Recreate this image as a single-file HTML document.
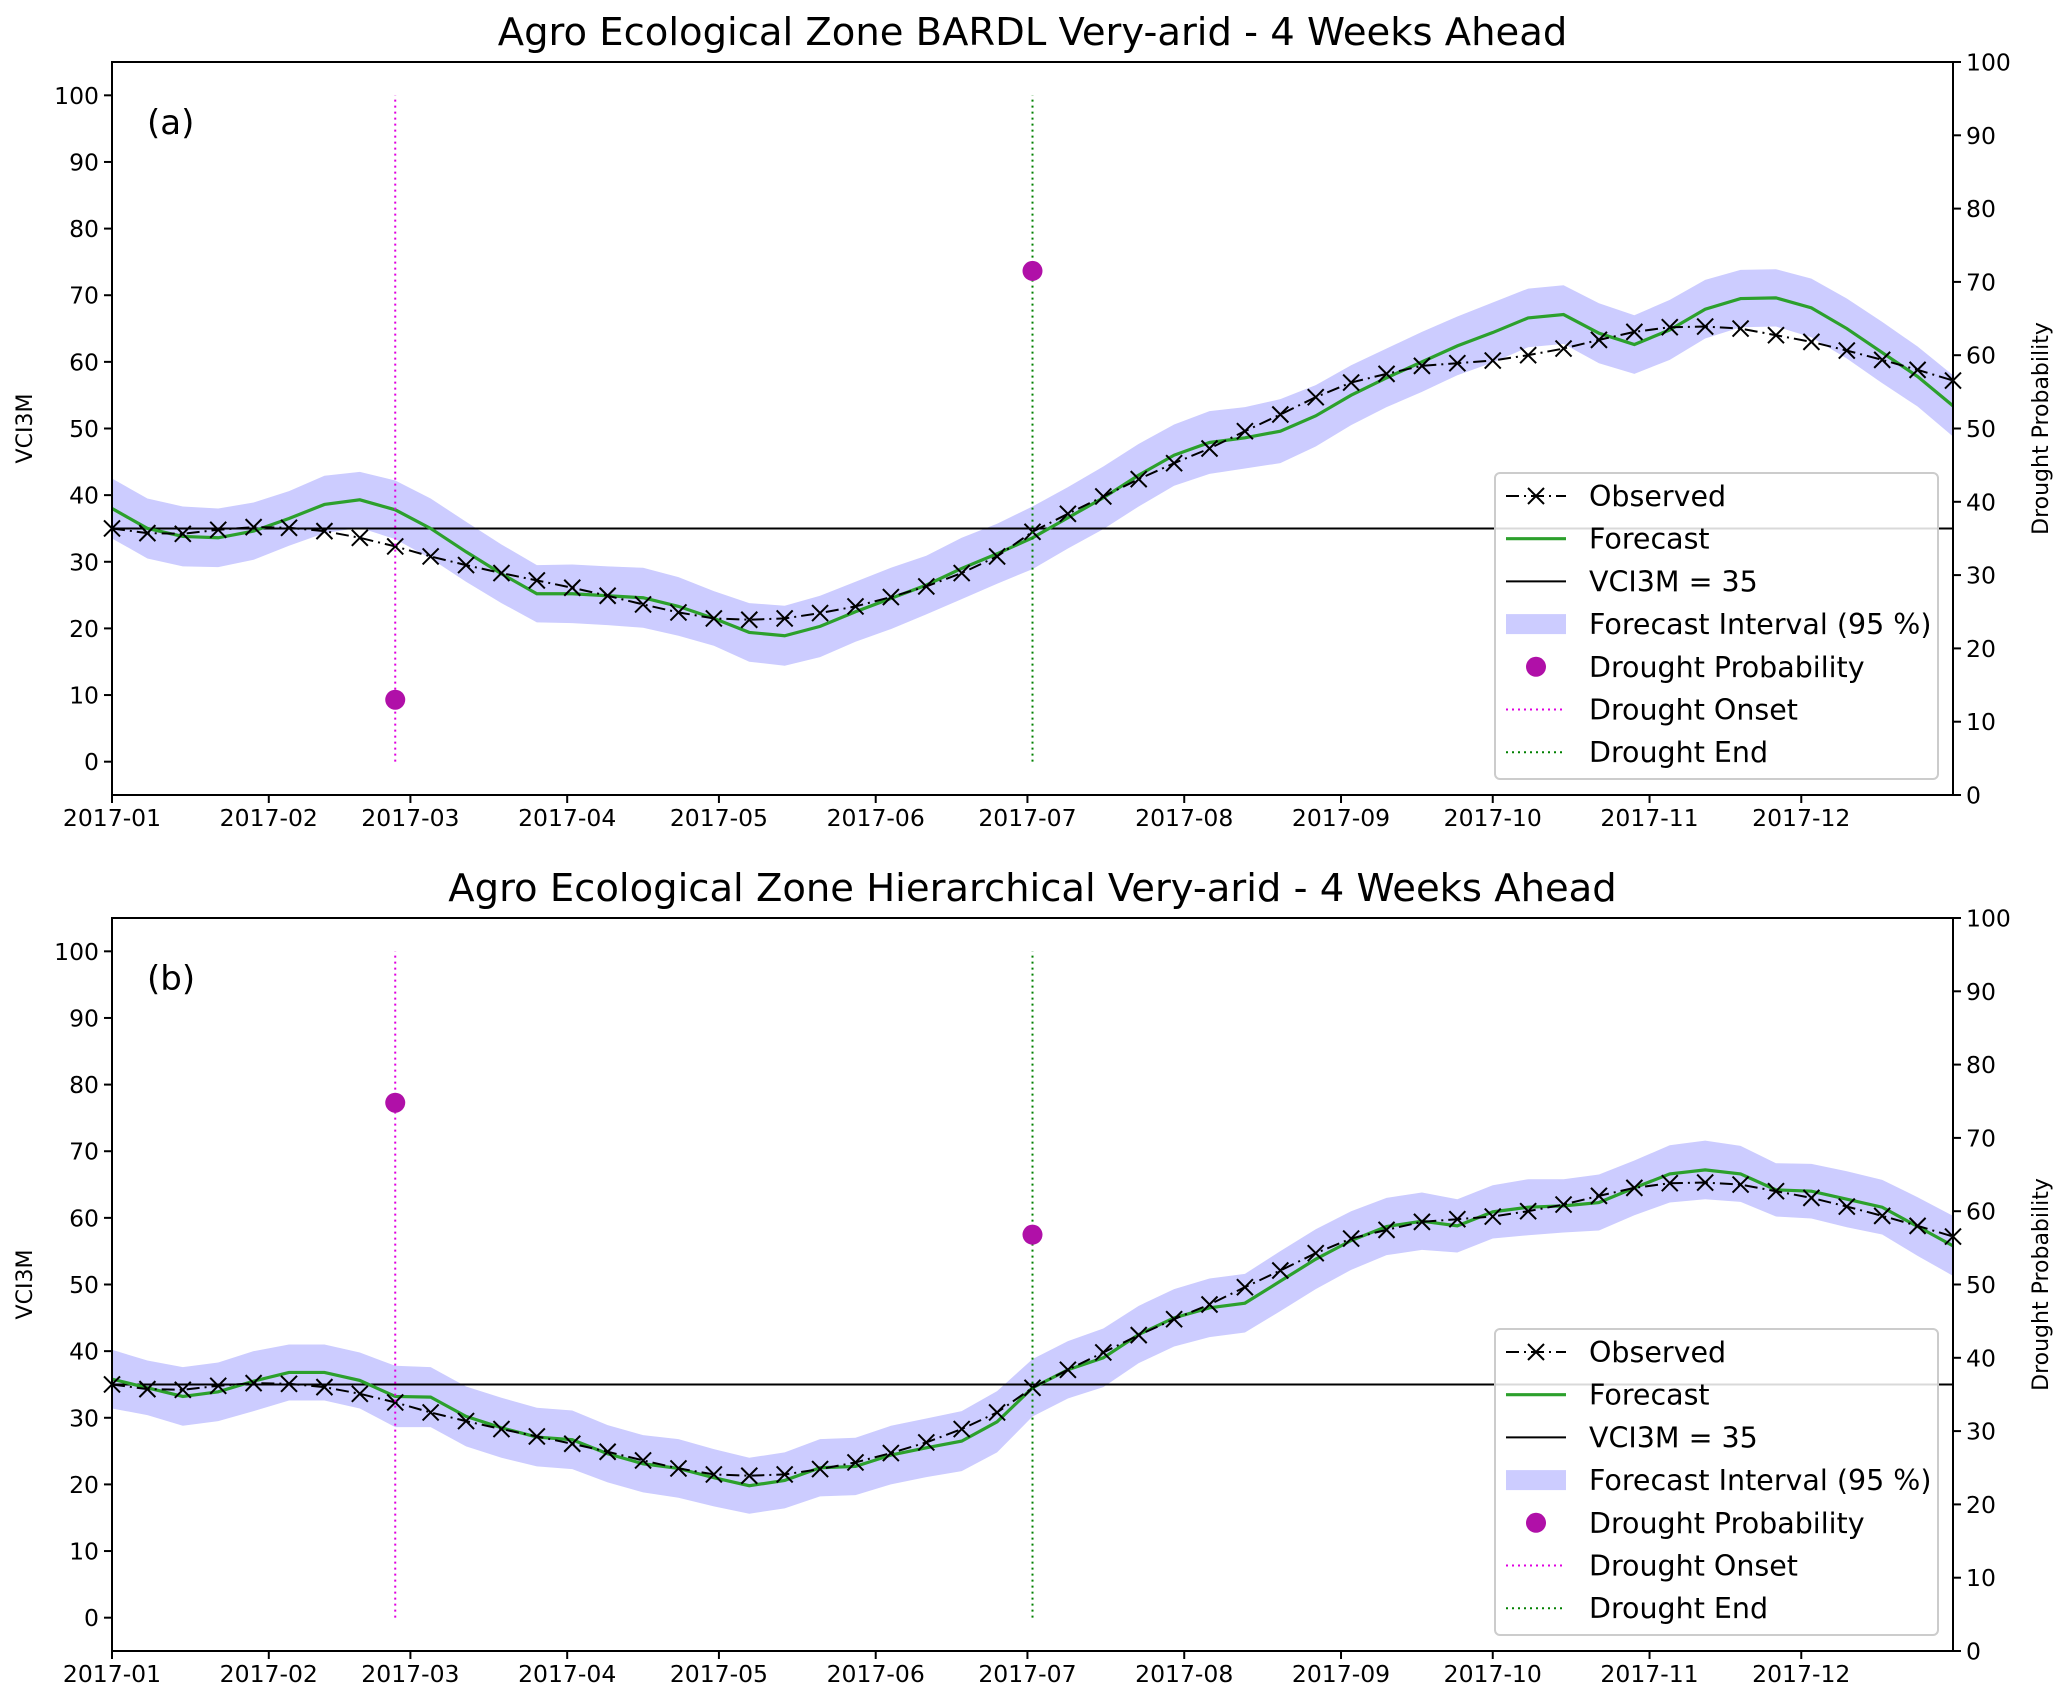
<!DOCTYPE html>
<html><head><meta charset="utf-8">
<style>
html,body{margin:0;padding:0;background:#fff;}
svg{display:block;font-family:"DejaVu Sans","Liberation Sans",sans-serif;}
</style></head>
<body>
<svg id="chart" width="2067" height="1704" viewBox="0 0 2067 1704" xmlns="http://www.w3.org/2000/svg"></svg>
<script>
// ---- data (weekly, starting 2017-01-01) ----
const monthLabels = ["2017-01","2017-02","2017-03","2017-04","2017-05","2017-06","2017-07","2017-08","2017-09","2017-10","2017-11","2017-12"];
const monthDays = [0,31,59,90,120,151,181,212,243,273,304,334];
const leftTicks = [0,10,20,30,40,50,60,70,80,90,100];
const rightTicks = [0,10,20,30,40,50,60,70,80,90,100];
const observed = [35,34.3,34.2,34.8,35.2,35.1,34.6,33.6,32.3,30.8,29.5,28.3,27.2,26.1,24.9,23.6,22.4,21.5,21.3,21.5,22.3,23.3,24.7,26.3,28.3,30.8,34.5,37.2,39.8,42.4,44.8,47.0,49.6,52.1,54.7,56.9,58.2,59.4,59.8,60.2,61,62,63.3,64.5,65.2,65.3,65,64,63,61.7,60.3,58.8,57.2];
const forecastA = [38,35,33.8,33.6,34.6,36.5,38.6,39.3,37.8,35,31.5,28.2,25.2,25.2,24.9,24.6,23.3,21.5,19.4,18.9,20.3,22.5,24.5,26.5,29,31.2,33.6,36.6,39.6,43,46,47.9,48.6,49.6,51.9,55,57.6,60,62.4,64.4,66.6,67.1,64.3,62.6,64.8,67.9,69.5,69.6,68.1,65,61.4,57.8,53.4];
const upperA = [42.5,39.5,38.3,38,38.9,40.6,42.9,43.5,42.2,39.5,36,32.6,29.5,29.6,29.3,29.1,27.7,25.6,23.8,23.4,24.9,27,29.1,30.9,33.6,35.7,38.3,41.2,44.3,47.7,50.6,52.6,53.2,54.4,56.5,59.5,62,64.5,66.8,68.9,71,71.5,68.8,67,69.3,72.3,73.8,73.9,72.5,69.5,66,62.3,58];
const lowerA = [33.5,30.5,29.3,29.2,30.3,32.4,34.3,35.1,33.4,30.5,27,23.8,20.9,20.8,20.5,20.1,18.9,17.4,15,14.4,15.7,18,19.9,22.1,24.4,26.7,28.9,32,34.9,38.3,41.4,43.2,44,44.8,47.3,50.5,53.2,55.5,58,59.9,62.2,62.7,59.8,58.2,60.3,63.5,65.2,65.3,63.7,60.5,56.8,53.3,48.8];
const forecastB = [35.8,34.5,33.2,33.9,35.5,36.8,36.8,35.6,33.2,33.1,30.2,28.5,27.1,26.7,24.6,23.1,22.4,21,19.8,20.6,22.5,22.7,24.4,25.5,26.5,29.4,34.5,37.2,39,42.5,45,46.5,47.2,50.5,53.8,56.6,58.7,59.5,58.8,60.9,61.6,61.8,62.3,64.5,66.6,67.2,66.6,64.2,64,62.8,61.6,58.7,55.8];
const upperB = [40.2,38.6,37.6,38.3,40,41,41,39.8,37.8,37.6,34.7,33,31.5,31.1,28.9,27.4,26.8,25.3,24,24.8,26.8,27,28.8,29.9,31,34,38.8,41.5,43.4,46.8,49.3,50.9,51.6,55,58.3,61,63,63.8,62.8,64.9,65.8,65.8,66.5,68.6,70.9,71.6,70.8,68.2,68.1,67,65.7,63.1,60.3];
const lowerB = [31.4,30.4,28.8,29.5,31,32.6,32.6,31.4,28.6,28.6,25.7,24,22.7,22.3,20.3,18.8,18,16.7,15.6,16.4,18.2,18.4,20,21.1,22,24.8,30.2,32.9,34.6,38.2,40.7,42.1,42.8,46,49.3,52.2,54.4,55.2,54.8,56.9,57.4,57.8,58.1,60.4,62.3,62.8,62.4,60.2,59.9,58.6,57.5,54.3,51.3];
const probWeeks = [8,26];
const probA = [13,71.5];
const probB = [74.8,56.8];
const onsetWeek = 8;
const endWeek = 26;
const threshold = 35;

const NS="http://www.w3.org/2000/svg";
const svg=document.getElementById('chart');
function mk(tag,attrs,parent){const e=document.createElementNS(NS,tag);for(const k in attrs)e.setAttribute(k,attrs[k]);(parent||svg).appendChild(e);return e;}

function panel(cfg){
  const L=112,R=1953,T=cfg.top,B=cfg.top+733;
  const g=mk('g',{});
  
  
  const xDay=d=>L+(R-L)*d/364;
  const xW=w=>xDay(w*7);
  const yL=v=>B-(v+5)/110*(B-T);
  const yR=v=>B-v/100*(B-T);
  const t=mk('text',{x:(L+R)/2,y:T-17,'text-anchor':'middle','font-size':38.5,fill:'#000'},g);
  t.textContent=cfg.title;
  
  
  let d='';
  cfg.upper.forEach((v,i)=>{d+=(i?'L':'M')+xW(i)+','+yL(v);});
  for(let i=cfg.lower.length-1;i>=0;i--)d+='L'+xW(i)+','+yL(cfg.lower[i]);
  const band=mk('path',{d:d+'Z',fill:'#ccccff',stroke:'none'},g);
  
  
  const th=mk('line',{x1:L,x2:R,y1:yL(threshold),y2:yL(threshold),stroke:'#000','stroke-width':2},g);
  
  
  const fl=mk('polyline',{points:cfg.forecast.map((v,i)=>xW(i)+','+yL(v)).join(' '),fill:'none',stroke:'#2ca02c','stroke-width':3.2},g);
  
  
  const ol=mk('polyline',{points:observed.map((v,i)=>xW(i)+','+yL(v)).join(' '),fill:'none',stroke:'#000','stroke-width':2,'stroke-dasharray':'13,5,2,5'},g);
  
  
  observed.forEach((v,i)=>{
    const cx=xW(i),cy=yL(v),s=8;
    const m=mk('path',{d:`M${cx-s},${cy-s}L${cx+s},${cy+s}M${cx-s},${cy+s}L${cx+s},${cy-s}`,stroke:'#000','stroke-width':2},g);
    
    
  });
  const on=mk('line',{x1:xW(onsetWeek),x2:xW(onsetWeek),y1:yL(0),y2:yL(100),stroke:'#e000e0','stroke-width':2,'stroke-dasharray':'2,4'},g);
  
  
  const en=mk('line',{x1:xW(endWeek),x2:xW(endWeek),y1:yL(0),y2:yL(100),stroke:'#008000','stroke-width':2,'stroke-dasharray':'2,4'},g);
  
  
  cfg.prob.forEach((p,i)=>{
    const c=mk('circle',{cx:xW(probWeeks[i]),cy:yR(p),r:10,fill:'#b010a8'},g);
    
    
  });
  const fr=mk('rect',{x:L,y:T,width:R-L,height:B-T,fill:'none',stroke:'#000','stroke-width':2},g);
  
  
  leftTicks.forEach(v=>{
    mk('line',{x1:L-8,x2:L,y1:yL(v),y2:yL(v),stroke:'#000','stroke-width':2},g);
    const tl=mk('text',{x:L-13,y:yL(v)+8.5,'text-anchor':'end','font-size':23.5},g);
    tl.textContent=v;
    
    
  });
  rightTicks.forEach(v=>{
    mk('line',{x1:R,x2:R+8,y1:yR(v),y2:yR(v),stroke:'#000','stroke-width':2},g);
    const tl=mk('text',{x:R+13,y:yR(v)+8.5,'text-anchor':'start','font-size':23.5},g);
    tl.textContent=v;
    
    
  });
  monthLabels.forEach((lab,i)=>{
    const x=xDay(monthDays[i]);
    mk('line',{x1:x,x2:x,y1:B,y2:B+8,stroke:'#000','stroke-width':2},g);
    const tl=mk('text',{x:x,y:B+31,'text-anchor':'middle','font-size':23.5},g);
    tl.textContent=lab;
    
    
  });
  const yl=mk('text',{x:0,y:0,'text-anchor':'middle','font-size':22,transform:`translate(32,${(T+B)/2}) rotate(-90)`},g);
  yl.textContent='VCI3M';
  
  
  const yr=mk('text',{x:0,y:0,'text-anchor':'middle','font-size':22,transform:`translate(2048,${(T+B)/2}) rotate(-90)`},g);
  yr.textContent='Drought Probability';
  
  
  const pl=mk('text',{x:147,y:T+72,'font-size':34},g);
  pl.textContent=cfg.letter;
  
  
  const lg=mk('g',{},g);
  
  
  const lx=1495,ly=T+411,rh=42.7;
  mk('rect',{x:lx,y:ly,width:443,height:306,rx:5,fill:'#fff','fill-opacity':0.85,stroke:'#cccccc','stroke-width':2},lg);
  const items=['Observed','Forecast','VCI3M = 35','Forecast Interval (95 %)','Drought Probability','Drought Onset','Drought End'];
  items.forEach((s,i)=>{
    const cy=ly+23+i*rh;
    const hx1=1506,hx2=1566;
    if(i===0){mk('line',{x1:hx1,x2:hx2,y1:cy,y2:cy,stroke:'#000','stroke-width':2,'stroke-dasharray':'13,5,2,5'},lg);
      mk('path',{d:`M1528,${cy-8}L1544,${cy+8}M1528,${cy+8}L1544,${cy-8}`,stroke:'#000','stroke-width':2},lg);}
    if(i===1)mk('line',{x1:hx1,x2:hx2,y1:cy,y2:cy,stroke:'#2ca02c','stroke-width':3.2},lg);
    if(i===2)mk('line',{x1:hx1,x2:hx2,y1:cy,y2:cy,stroke:'#000','stroke-width':2},lg);
    if(i===3)mk('rect',{x:hx1,y:cy-10,width:60,height:20,fill:'#ccccff'},lg);
    if(i===4)mk('circle',{cx:1536,cy:cy,r:10,fill:'#b010a8'},lg);
    if(i===5)mk('line',{x1:hx1,x2:hx2,y1:cy,y2:cy,stroke:'#e000e0','stroke-width':2,'stroke-dasharray':'2,4'},lg);
    if(i===6)mk('line',{x1:hx1,x2:hx2,y1:cy,y2:cy,stroke:'#008000','stroke-width':2,'stroke-dasharray':'2,4'},lg);
    const tx=mk('text',{x:1589,y:cy+10,'font-size':28.5},lg);
    tx.textContent=s;
    
    
  });
}
panel({name:'panel-a',top:62,title:'Agro Ecological Zone BARDL Very-arid - 4 Weeks Ahead',letter:'(a)',forecast:forecastA,upper:upperA,lower:lowerA,prob:probA});
panel({name:'panel-b',top:918,title:'Agro Ecological Zone Hierarchical Very-arid - 4 Weeks Ahead',letter:'(b)',forecast:forecastB,upper:upperB,lower:lowerB,prob:probB});
</script>
</body></html>
